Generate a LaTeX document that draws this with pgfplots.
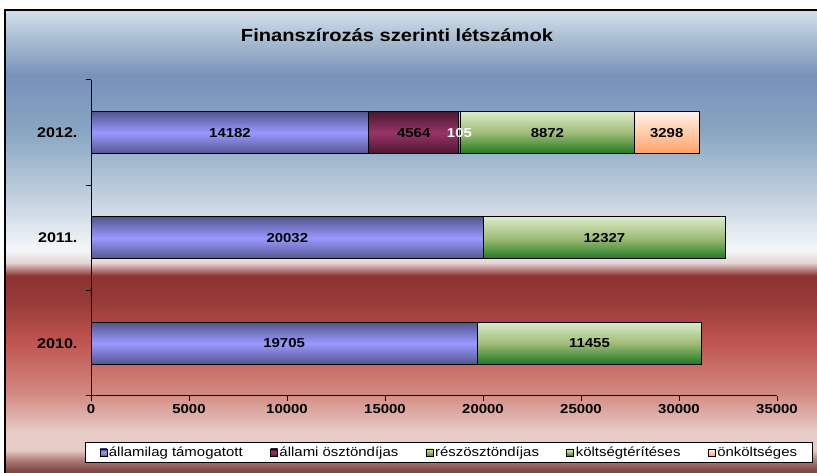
\documentclass[border=0pt]{standalone}
\usepackage{pgfplots}
\pgfplotsset{compat=1.18}
\usepackage{fontspec}
\setmainfont{Liberation Sans}[FakeStretch=1.15]

\definecolor{blueEdge}{HTML}{55558E}
\definecolor{blueMid}{HTML}{9999FF}
\definecolor{plumEdge}{HTML}{4A1830}
\definecolor{plumMid}{HTML}{993366}
\definecolor{oliveTop}{HTML}{CFE0A8}
\definecolor{oliveBot}{HTML}{5F8C22}
\definecolor{greenTop}{HTML}{DCEAC8}
\definecolor{greenMid}{HTML}{9FBC78}
\definecolor{greenBot}{HTML}{1E781E}
\definecolor{peachTop}{HTML}{FFF0EA}
\definecolor{peachMid}{HTML}{FFCBA8}
\definecolor{peachBot}{HTML}{FFA066}

% background: blue sky on top, dark red band below the middle
\pgfdeclareverticalshading{chartbg}{100bp}{
  rgb(0bp)=(0.45,0.27,0.26);
  rgb(25bp)=(0.45,0.27,0.26);
  rgb(25.9bp)=(0.50,0.30,0.28);
  rgb(26.9bp)=(0.68,0.48,0.46);
  rgb(28.0bp)=(0.90,0.80,0.78);
  rgb(29.9bp)=(0.91,0.80,0.78);
  rgb(34.2bp)=(0.82,0.53,0.50);
  rgb(39.6bp)=(0.75,0.33,0.31);
  rgb(43.9bp)=(0.59,0.23,0.22);
  rgb(46.6bp)=(0.55,0.20,0.20);
  rgb(48.0bp)=(0.90,0.83,0.83);
  rgb(49.3bp)=(0.96,0.97,0.98);
  rgb(55.7bp)=(0.74,0.80,0.86);
  rgb(62.1bp)=(0.53,0.65,0.76);
  rgb(68.0bp)=(0.47,0.57,0.73);
  rgb(71.8bp)=(0.66,0.74,0.82);
  rgb(75bp)=(0.83,0.88,0.92);
  rgb(100bp)=(0.83,0.88,0.92)}

% one stacked axis per year, so every bar gets its own gradient
\pgfplotsset{
  frame/.style={at={(91pt,77pt)}, anchor=south west,
    scale only axis, width=686pt, height=316pt,
    xmin=0, xmax=35000, ymin=-0.5, ymax=2.5},
  row/.style={frame, hide axis, xbar stacked, bar width=42pt},
  sBlue/.style={draw=black, line width=1pt, top color=blueEdge,
    bottom color=blueEdge, middle color=blueMid},
  sPlum/.style={draw=black, line width=1pt, top color=plumEdge,
    bottom color=plumEdge, middle color=plumMid},
  sOlive/.style={draw=black, line width=1pt, top color=oliveTop,
    bottom color=oliveBot},
  sGreen/.style={draw=black, line width=1pt, top color=greenTop,
    bottom color=greenBot, middle color=greenMid},
  sPeach/.style={draw=black, line width=1pt, top color=peachTop,
    bottom color=peachBot, middle color=peachMid},
}

\begin{document}
\begin{tikzpicture}
\clip (0,0) rectangle (817pt,473pt);
\shade[shading=chartbg] (5pt,-5pt) rectangle (830pt,463pt);
\draw[line width=1.5pt] (5pt,-5pt) rectangle (830pt,463pt);
\node[font=\bfseries\fontsize{17.5}{20}\selectfont] at (397pt,438pt)
  {Finanszírozás szerinti létszámok};

% 2012 with axes and legend
\begin{axis}[
  frame,
  xbar stacked, bar width=42pt,
  axis x line*=bottom, axis y line*=left,
  axis line style={line width=1pt, -},
  xtick={0,5000,...,35000}, scaled x ticks=false,
  ytick={-0.5,0.5,1.5,2.5}, yticklabels={,,,},
  extra y ticks={0,1,2}, extra y tick labels={2010.,2011.,2012.},
  extra y tick style={major tick length=0pt},
  tick align=outside, major tick length=5pt,
  tick style={line width=1pt, black},
  /pgf/number format/1000 sep={},
  /pgf/number format/assume math mode=true,
  xticklabel style={font=\bfseries\fontsize{13}{15}\selectfont},
  yticklabel style={font=\bfseries\fontsize{14}{16}\selectfont, xshift=-10pt},
  legend style={at={(0.522,-0.1788)}, anchor=center, legend columns=5,
    draw=black, line width=1pt, fill=white,
    font=\fontsize{13}{15}\selectfont, inner xsep=14pt, inner ysep=2.5pt,
    nodes={inner xsep=1.5pt},
    /tikz/every even column/.append style={column sep=26pt}},
  legend cell align=left,
  legend image code/.code={\draw[#1, line width=0.8pt] (0pt,-3.5pt) rectangle (7pt,3.5pt);},
]
\addplot[sBlue] coordinates {(14182,2)};
\addplot[sPlum] coordinates {(4564,2)};
\addplot[sOlive] coordinates {(105,2)};
\addplot[sGreen] coordinates {(8872,2)};
\addplot[sPeach] coordinates {(3298,2)};
\legend{államilag támogatott, állami ösztöndíjas, részösztöndíjas,
  költségtérítéses, önköltséges}
\end{axis}

% 2011
\begin{axis}[row]
\addplot[sBlue] coordinates {(20032,1)};
\addplot[sGreen] coordinates {(12327,1)};
\end{axis}

% 2010
\begin{axis}[row]
\addplot[sBlue] coordinates {(19705,0)};
\addplot[sGreen] coordinates {(11455,0)};
\end{axis}

% value labels, centred on their segments
\begin{axis}[frame, hide axis,
  nodes near coords style={anchor=center, font=\bfseries\fontsize{13}{15}\selectfont}]
\addplot[draw=none, mark=none, nodes near coords, point meta=explicit symbolic]
  coordinates {(9852.5,0) [19705] (25432.5,0) [11455]
               (10016,1) [20032] (26195.5,1) [12327]
               (7091,2) [14182] (16464,2) [4564] (23287,2) [8872] (29372,2) [3298]};
\addplot[draw=none, mark=none, nodes near coords, point meta=explicit symbolic,
  nodes near coords style={text=white}]
  coordinates {(18798.5,2) [105]};
\end{axis}
\end{tikzpicture}
\end{document}
